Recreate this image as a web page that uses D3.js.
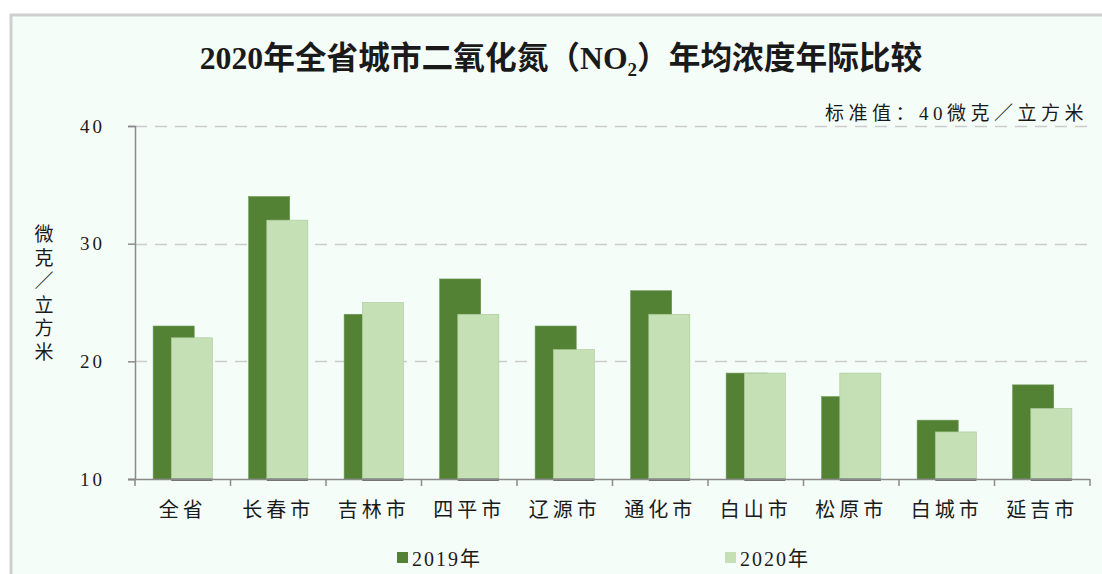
<!DOCTYPE html>
<html><head><meta charset="utf-8">
<script src="https://cdn.jsdelivr.net/npm/d3@7"></script>
<style>
html,body{margin:0;padding:0;background:#fff;}
svg{display:block;}
text{font-family:"Liberation Serif","Noto Sans CJK SC",serif;fill:#1a1a1a;}
</style></head><body>
<svg id="chart" width="1102" height="574"></svg>
<script>
const categories = ["全省","长春市","吉林市","四平市","辽源市","通化市","白山市","松原市","白城市","延吉市"];
const values2019 = [23,34,24,27,23,26,19,17,15,18];
const values2020 = [22,32,25,24,21,24,19,19,14,16];
const seriesNames = ["2019年","2020年"];
const yTicks = [10,20,30,40];
const colors = ["#548235","#c5e0b4"];

(function(){
const svg = d3.select("#chart");
// background frame
svg.append("rect").attr("x",10).attr("y",14).attr("width",1102).attr("height",574).attr("fill","#f5fdf9");
svg.append("line").attr("x1",10).attr("x2",1102).attr("y1",15).attr("y2",15).attr("stroke","#cfcfcf").attr("stroke-width",3);
svg.append("line").attr("x1",11).attr("x2",11).attr("y1",14).attr("y2",574).attr("stroke","#cfcfcf").attr("stroke-width",3);

const pl=135, pr=1090, pt=126, pb=479;
const x = d3.scaleBand().domain(categories).range([pl,pr]).paddingInner(0).paddingOuter(0);
const y = d3.scaleLinear().domain([10,40]).range([pb,pt]);
const bw = x.bandwidth();
const barW = bw*0.43;
const off = [bw*0.19, bw*0.38];

// gridlines
svg.append("g").selectAll("line").data(yTicks.filter(d=>d>10)).join("line")
  .attr("x1",pl).attr("x2",pr).attr("y1",d=>Math.round(y(d))+0.5).attr("y2",d=>Math.round(y(d))+0.5)
  .attr("stroke","#cccccc").attr("stroke-width",1.5).attr("stroke-dasharray","12,8");

// bars
const series = [values2019, values2020];
series.forEach((vals,si)=>{
  svg.append("g").selectAll("rect").data(categories).join("rect")
    .attr("x",(d)=>x(d)+off[si]).attr("width",barW)
    .attr("y",(d,i)=>y(vals[i])).attr("height",(d,i)=>y(10)-y(vals[i]))
    .attr("fill",colors[si])
    .attr("stroke", si===0?"#6a9450":"#a9c99a").attr("stroke-width",0.6);
});
// shadow under 2020 bars
svg.append("g").selectAll("rect").data(categories).join("rect")
  .attr("x",d=>x(d)+off[1]).attr("width",barW).attr("y",pb-0.5).attr("height",2.5)
  .attr("fill","#6e6e6e");

// axes
const yAxis = d3.axisLeft(y).tickValues(yTicks).tickSize(7).tickFormat(d3.format("d"));
const gy = svg.append("g").attr("transform",`translate(${pl},0)`).call(yAxis);
gy.select(".domain").attr("stroke","#8a8a8a").attr("stroke-width",1.5);
gy.selectAll(".tick line").attr("stroke","#8a8a8a").attr("stroke-width",1.5);
gy.selectAll(".tick text").attr("x",-30).attr("font-size",19).attr("letter-spacing",3).attr("fill","#1a1a1a")
  .attr("font-family","Liberation Serif");

// x axis line with boundary ticks
const xAxisG = svg.append("g");
xAxisG.append("line").attr("x1",pl-7).attr("x2",pr).attr("y1",pb+0.5).attr("y2",pb+0.5).attr("stroke","#8a8a8a").attr("stroke-width",1.5);
const bounds = categories.map(d=>x(d)).concat([pr]);
xAxisG.selectAll("line.tk").data(bounds).join("line").attr("class","tk")
  .attr("x1",d=>d).attr("x2",d=>d).attr("y1",pb).attr("y2",pb+7)
  .attr("stroke","#8a8a8a").attr("stroke-width",1.5);
xAxisG.selectAll("text").data(categories).join("text")
  .attr("x",d=>x(d)+bw/2).attr("y",517).attr("text-anchor","middle")
  .attr("font-size",20).attr("letter-spacing",4).text(d=>d);

// title
const title = svg.append("text").attr("x",561).attr("y",69).attr("text-anchor","middle")
  .attr("font-size",31.7).attr("font-weight","bold");
title.append("tspan").text("2020年全省城市二氧化氮（NO");
title.append("tspan").attr("font-size",19).attr("dy",7).text("2");
title.append("tspan").attr("dy",-7).text("）年均浓度年际比较");

// standard annotation
svg.append("text").attr("x",1088).attr("y",120).attr("text-anchor","end")
  .attr("font-size",19).attr("letter-spacing",4.5).text("标准值：40微克／立方米");

// y axis title vertical
const yt = svg.append("text").attr("font-size",19).attr("text-anchor","middle");
"微克／立方米".split("").forEach((c,i)=>{
  yt.append("tspan").attr("x",44).attr("y",241+i*23.5).text(c);
});

// legend
seriesNames.forEach((n,i)=>{
  const lx = [397,725][i];
  svg.append("rect").attr("x",lx).attr("y",552).attr("width",11).attr("height",11).attr("fill",colors[i]);
  svg.append("text").attr("x",lx+15).attr("y",566).attr("font-size",20).attr("letter-spacing",2).text(n);
});
})();
</script>
</body></html>
